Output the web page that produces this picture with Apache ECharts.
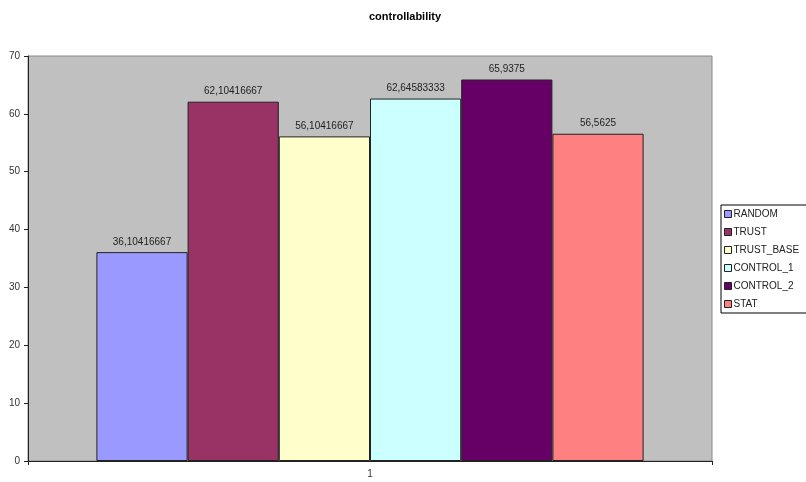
<!DOCTYPE html>
<html>
<head>
<meta charset="utf-8">
<script src="https://cdn.jsdelivr.net/npm/echarts@6/dist/echarts.min.js"></script>
<style>
  html, body { margin: 0; padding: 0; background: #fff; }
  #chart { width: 806px; height: 482px; }
</style>
</head>
<body>
<div id="chart"></div>
<script>
// Series names, colours and values (controllability score per strategy)
const categories = ['1'];
const seriesNames = ['RANDOM', 'TRUST', 'TRUST_BASE', 'CONTROL_1', 'CONTROL_2', 'STAT'];
const seriesColors = ['#9999FF', '#993366', '#FFFFCC', '#CCFFFF', '#660066', '#FF8080'];
const seriesValues = [36.10416667, 62.10416667, 56.10416667, 62.64583333, 65.9375, 56.5625];
const yTicks = { min: 0, max: 70, interval: 10 };

const font = 'Liberation Sans, Arial, sans-serif';

const chart = echarts.init(document.getElementById('chart'), null, { renderer: 'canvas' });

const series = seriesNames.map((name, i) => ({
  name: name,
  type: 'bar',
  data: [seriesValues[i]],
  barGap: '0%',
  barCategoryGap: '20%',
  itemStyle: { color: seriesColors[i], borderColor: '#222', borderWidth: 1 },
  label: {
    show: true,
    position: 'top',
    distance: 5,
    fontFamily: font,
    fontSize: 10,
    color: '#222',
    formatter: p => String(p.value).replace('.', ',')
  }
}));

chart.setOption({
  animation: false,
  backgroundColor: '#ffffff',
  title: {
    text: 'controllability',
    left: 400,
    textAlign: 'center',
    top: 6,
    textStyle: { fontFamily: font, fontSize: 11, fontWeight: 'bold', color: '#000' }
  },
  legend: {
    orient: 'vertical',
    left: 721,
    top: 205,
    width: 90,
    itemWidth: 7,
    itemHeight: 7,
    itemGap: 8,
    padding: [4, 8, 4, 3],
    icon: 'rect',
    backgroundColor: '#fff',
    borderColor: '#000',
    borderWidth: 1,
    data: seriesNames,
    itemStyle: { borderColor: '#222', borderWidth: 1 },
    textStyle: { fontFamily: font, fontSize: 10, color: '#222', padding: [0, 0, 0, -3] }
  },
  grid: {
    left: 28,
    top: 56,
    right: 94,
    bottom: 21,
    show: true,
    backgroundColor: '#C0C0C0',
    borderColor: '#888',
    borderWidth: 1,
    containLabel: false
  },
  xAxis: {
    type: 'category',
    data: categories,
    axisLine: { show: true, lineStyle: { color: '#222', width: 1 } },
    axisTick: { show: true, alignWithLabel: false, length: 4, lineStyle: { color: '#222' } },
    axisLabel: { fontFamily: font, fontSize: 10, color: '#333', margin: 8 },
    splitLine: { show: false }
  },
  yAxis: {
    type: 'value',
    min: yTicks.min,
    max: yTicks.max,
    interval: yTicks.interval,
    axisLine: { show: true, lineStyle: { color: '#222', width: 1 } },
    axisTick: { show: true, length: 4, lineStyle: { color: '#222' } },
    axisLabel: { fontFamily: font, fontSize: 10, color: '#333', margin: 8 },
    splitLine: { show: false }
  },
  series: series
});
</script>
</body>
</html>
